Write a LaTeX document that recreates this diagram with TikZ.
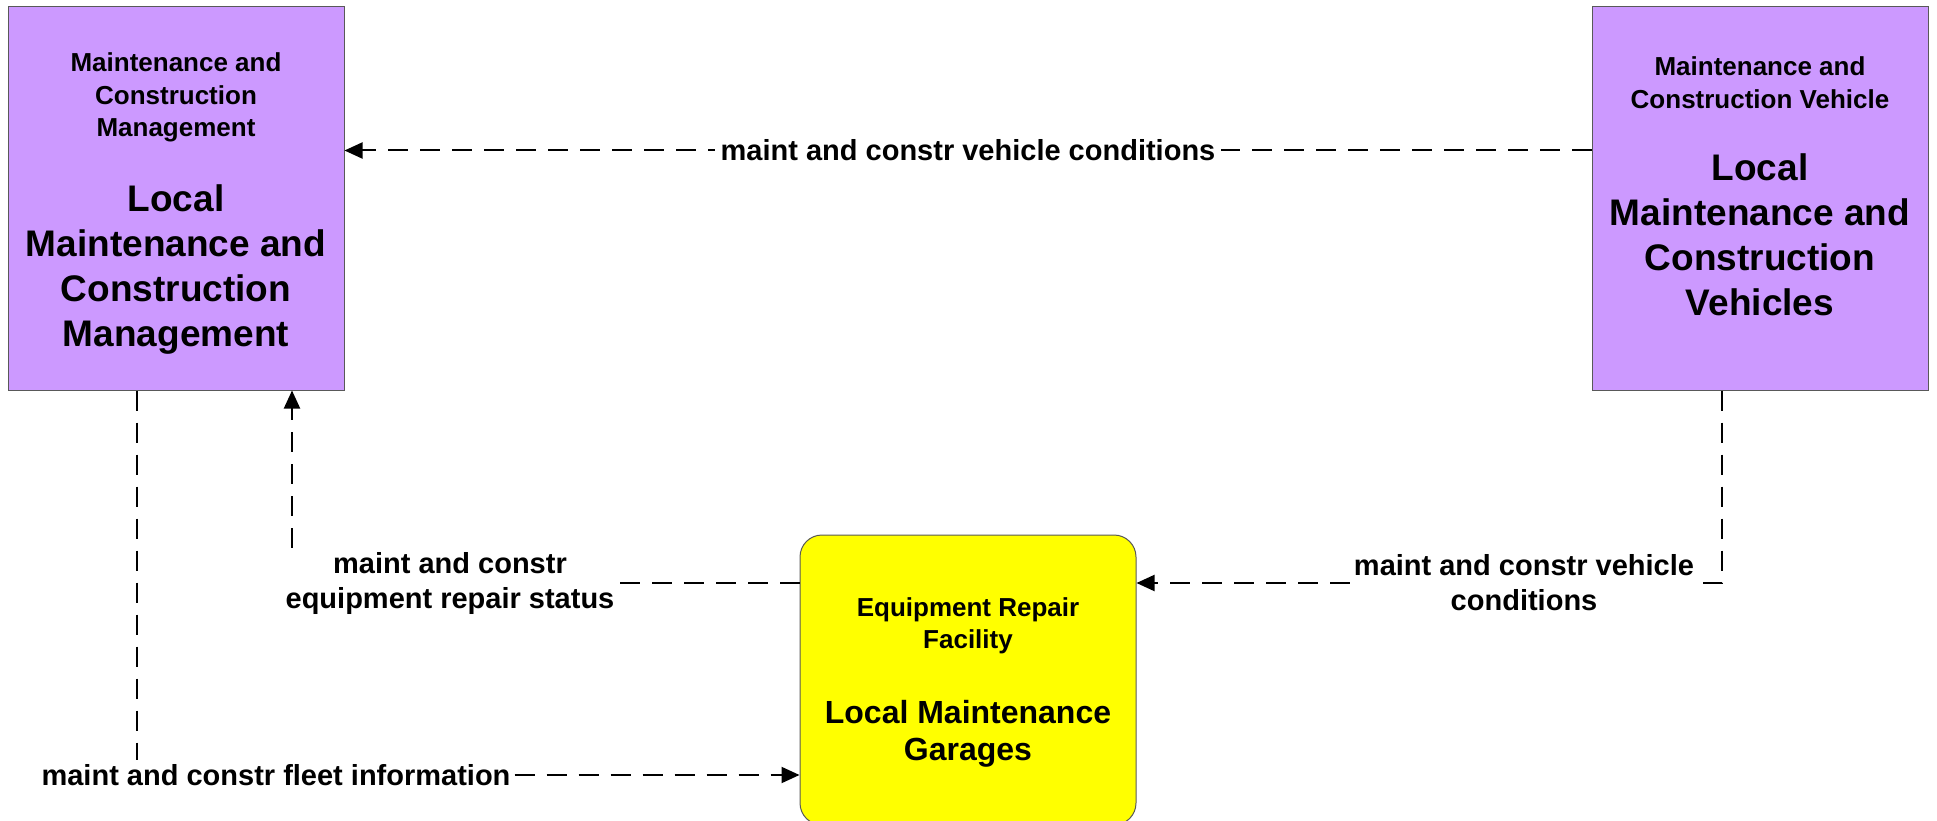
\documentclass[tikz,border=0pt]{standalone}
\usepackage{fontspec}
\setmainfont{Liberation Sans}
\usetikzlibrary{arrows.meta}

\definecolor{termpurple}{HTML}{CC99FF}
\definecolor{termyellow}{HTML}{FFFF00}

\newcommand{\elemkind}[1]{{\centering\spaceskip=0pt\xspaceskip=0pt\fontsize{26}{32.5}\selectfont #1\par}}
\newcommand{\elemname}[1]{{\centering\spaceskip=0pt\xspaceskip=0pt\fontsize{37}{45}\selectfont #1\par}}
\newcommand{\garagename}[1]{{\centering\spaceskip=0pt\xspaceskip=0pt\fontsize{32}{37}\selectfont #1\par}}

\tikzset{
  sysbox/.style={draw=black!65, line width=1pt, fill=termpurple, minimum width=336pt,
    minimum height=383pt, inner sep=0pt},
  garagebox/.style={sysbox, fill=termyellow, rounded corners=22pt, minimum height=290pt},
  boxtext/.style={text width=326pt, inner sep=0pt, font=\bfseries},
  flow/.style={line width=2pt, dash pattern=on 20pt off 12pt},
  flowarrow/.style={flow, -{Triangle[length=18pt, width=16pt]}},
  flowlabel/.style={font=\fontsize{29}{35}\selectfont\bfseries, align=center, inner sep=4pt}
}

\begin{document}
\begin{tikzpicture}[x=1pt, y=-1pt]
    \useasboundingbox (0,0) rectangle (1937,821);
    % boxes
    \node[sysbox] (mgmt) at (176,198.5) {};
    \node[sysbox] (vehicle) at (1760,198.5) {};
    \node[garagebox] (garage) at (968,680) {};
    % box texts
    \node[boxtext] (mgmttext) at ([yshift=-5.5pt]mgmt.center) {\elemkind{Maintenance and\\Construction\\Management}\vspace{30pt}\elemname{Local\\Maintenance and\\Construction\\Management}};
    \node[boxtext] (vehicletext) at ([yshift=12pt]vehicle.center) {\elemkind{Maintenance and\\Construction Vehicle}\vspace{27pt}\elemname{Local\\Maintenance and\\Construction\\Vehicles}};
    \node[boxtext] (garagetext) at ([yshift=-2.5pt]garage.center) {\elemkind{Equipment Repair\\Facility}\vspace{38pt}\garagename{Local Maintenance\\Garages}};
    % flow labels
    \node[flowlabel] (fleetlbl) at (276,775) {maint and constr fleet information};
    \node[flowlabel] (statlbl) at (450,583) {maint and constr\\equipment repair status};
    \node[flowlabel] (condlbl) at (1524,583) {maint and constr vehicle\\conditions};
    \coordinate (fleettop) at ([xshift=-39pt]mgmt.south);
    \coordinate (stattop) at ([xshift=116pt]mgmt.south);
    \coordinate (condtop) at ([xshift=-38pt]vehicle.south);
    % flows
    \draw[flowarrow] ([yshift=48pt]vehicle.west) -- ([yshift=48pt]mgmt.east)
    node[midway, fill=white, flowlabel, inner sep=6pt] {maint and constr vehicle conditions};
    \draw[flow] (fleettop) -- (fleettop |- fleetlbl.north);
    \draw[flowarrow] (fleetlbl.east) -- (fleetlbl.east -| garage.west);
    \draw[flow] (garage.west |- statlbl.east) -- (statlbl.east);
    \draw[flowarrow] (stattop |- statlbl.north) -- (stattop);
    \draw[flow] (condtop) -- (condtop |- condlbl.east) -- (condlbl.east);
    \draw[flowarrow] (condlbl.west) -- (condlbl.west -| garage.east);
\end{tikzpicture}
\end{document}
